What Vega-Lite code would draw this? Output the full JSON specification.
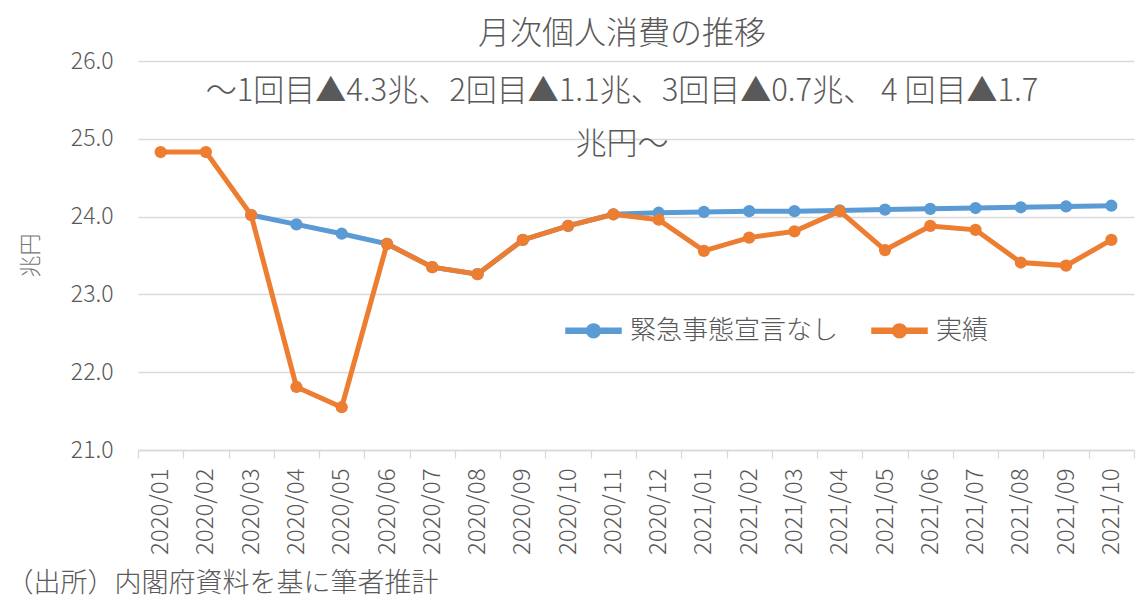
{
  "$schema": "https://vega.github.io/schema/vega-lite/v6.json",
  "autosize": "none",
  "width": 996,
  "height": 389,
  "padding": {"left": 138, "top": 61, "right": 6, "bottom": 166},
  "background": "white",
  "title": {
    "text": "月次個人消費の推移",
    "subtitle": ["～1回目▲4.3兆、2回目▲1.1兆、3回目▲0.7兆、 4 回目▲1.7", "兆円～"],
    "anchor": "middle",
    "dx": -14,
    "offset": -111,
    "fontSize": 32,
    "fontWeight": 300,
    "color": "#595959",
    "subtitleFontSize": 31,
    "subtitleFontWeight": 300,
    "subtitleColor": "#595959",
    "subtitleLineHeight": 53,
    "subtitlePadding": 26
  },
  "data": {
    "values": [
      {"month": "2020/03", "series": "緊急事態宣言なし", "value": 24.02},
      {"month": "2020/04", "series": "緊急事態宣言なし", "value": 23.90},
      {"month": "2020/05", "series": "緊急事態宣言なし", "value": 23.78},
      {"month": "2020/06", "series": "緊急事態宣言なし", "value": 23.65},
      {"month": "2020/07", "series": "緊急事態宣言なし", "value": 23.35},
      {"month": "2020/08", "series": "緊急事態宣言なし", "value": 23.26},
      {"month": "2020/09", "series": "緊急事態宣言なし", "value": 23.70},
      {"month": "2020/10", "series": "緊急事態宣言なし", "value": 23.88},
      {"month": "2020/11", "series": "緊急事態宣言なし", "value": 24.03},
      {"month": "2020/12", "series": "緊急事態宣言なし", "value": 24.05},
      {"month": "2021/01", "series": "緊急事態宣言なし", "value": 24.06},
      {"month": "2021/02", "series": "緊急事態宣言なし", "value": 24.07},
      {"month": "2021/03", "series": "緊急事態宣言なし", "value": 24.07},
      {"month": "2021/04", "series": "緊急事態宣言なし", "value": 24.08},
      {"month": "2021/05", "series": "緊急事態宣言なし", "value": 24.09},
      {"month": "2021/06", "series": "緊急事態宣言なし", "value": 24.10},
      {"month": "2021/07", "series": "緊急事態宣言なし", "value": 24.11},
      {"month": "2021/08", "series": "緊急事態宣言なし", "value": 24.12},
      {"month": "2021/09", "series": "緊急事態宣言なし", "value": 24.13},
      {"month": "2021/10", "series": "緊急事態宣言なし", "value": 24.14},
      {"month": "2020/01", "series": "実績", "value": 24.83},
      {"month": "2020/02", "series": "実績", "value": 24.83},
      {"month": "2020/03", "series": "実績", "value": 24.02},
      {"month": "2020/04", "series": "実績", "value": 21.81},
      {"month": "2020/05", "series": "実績", "value": 21.55},
      {"month": "2020/06", "series": "実績", "value": 23.65},
      {"month": "2020/07", "series": "実績", "value": 23.35},
      {"month": "2020/08", "series": "実績", "value": 23.26},
      {"month": "2020/09", "series": "実績", "value": 23.70},
      {"month": "2020/10", "series": "実績", "value": 23.88},
      {"month": "2020/11", "series": "実績", "value": 24.03},
      {"month": "2020/12", "series": "実績", "value": 23.96},
      {"month": "2021/01", "series": "実績", "value": 23.56},
      {"month": "2021/02", "series": "実績", "value": 23.73},
      {"month": "2021/03", "series": "実績", "value": 23.81},
      {"month": "2021/04", "series": "実績", "value": 24.07},
      {"month": "2021/05", "series": "実績", "value": 23.57},
      {"month": "2021/06", "series": "実績", "value": 23.88},
      {"month": "2021/07", "series": "実績", "value": 23.83},
      {"month": "2021/08", "series": "実績", "value": 23.41},
      {"month": "2021/09", "series": "実績", "value": 23.37},
      {"month": "2021/10", "series": "実績", "value": 23.70}
    ]
  },
  "encoding": {
    "x": {
      "field": "month",
      "type": "ordinal",
      "scale": {"type": "band", "paddingInner": 0, "paddingOuter": 0},
      "axis": {
        "title": "（出所）内閣府資料を基に筆者推計",
        "titleAnchor": "start",
        "titleAlign": "left",
        "titleBaseline": "middle",
        "titleX": -132,
        "titleY": 133,
        "titleFontSize": 27,
        "titleFontWeight": 300,
        "titleColor": "#595959",
        "labelAngle": 270,
        "labelAlign": "right",
        "labelBaseline": "middle",
        "labelFontSize": 24,
        "labelFontWeight": 300,
        "labelColor": "#595959",
        "labelPadding": 10,
        "tickBand": "extent",
        "tickSize": 8,
        "tickColor": "#d9d9d9",
        "tickWidth": 1.3,
        "domainColor": "#d9d9d9",
        "domainWidth": 1.3,
        "grid": false
      }
    },
    "y": {
      "field": "value",
      "type": "quantitative",
      "scale": {"domain": [21, 26], "nice": false},
      "axis": {
        "title": "兆円",
        "titleX": -108,
        "titleY": 194,
        "titleAlign": "center",
        "titleBaseline": "middle",
        "titleFontSize": 22,
        "titleFontWeight": 300,
        "titleColor": "#737373",
        "values": [21, 22, 23, 24, 25, 26],
        "format": ".1f",
        "labelFontSize": 23,
        "labelFontWeight": 300,
        "labelColor": "#595959",
        "labelPadding": 25,
        "ticks": false,
        "domain": false,
        "gridColor": "#d9d9d9",
        "gridWidth": 1.3
      }
    },
    "color": {
      "field": "series",
      "type": "nominal",
      "scale": {"domain": ["緊急事態宣言なし", "実績"], "range": ["#5B9BD5", "#ED7D31"]},
      "legend": {
        "orient": "none",
        "legendX": 427,
        "legendY": 241,
        "direction": "horizontal",
        "title": null,
        "padding": 0,
        "symbolType": "M-1,-0.09L-0.24,-0.09L-0.24,0.09L-1,0.09Z M0.24,-0.09L1,-0.09L1,0.09L0.24,0.09Z M-0.25,0A0.25,0.25 0 1,1 0.25,0A0.25,0.25 0 1,1 -0.25,0Z",
        "symbolSize": 3025,
        "labelFontSize": 26,
        "labelFontWeight": 300,
        "labelColor": "#595959",
        "labelLimit": 400,
        "labelOffset": 8,
        "columnPadding": 30,
        "encode": {
          "symbols": {
            "update": {
              "fill": {"scale": "color", "field": "value"},
              "stroke": {"value": "transparent"},
              "opacity": {"value": 1}
            }
          }
        }
      }
    }
  },
  "layer": [
    {
      "transform": [{"filter": "datum.series == '緊急事態宣言なし'"}],
      "mark": {"type": "line", "strokeWidth": 5, "point": {"filled": true, "size": 150, "opacity": 1}}
    },
    {
      "transform": [{"filter": "datum.series == '実績'"}],
      "mark": {"type": "line", "strokeWidth": 5, "point": {"filled": true, "size": 150, "opacity": 1}}
    }
  ],
  "config": {
    "font": "Noto Sans CJK JP",
    "view": {"stroke": null}
  }
}
